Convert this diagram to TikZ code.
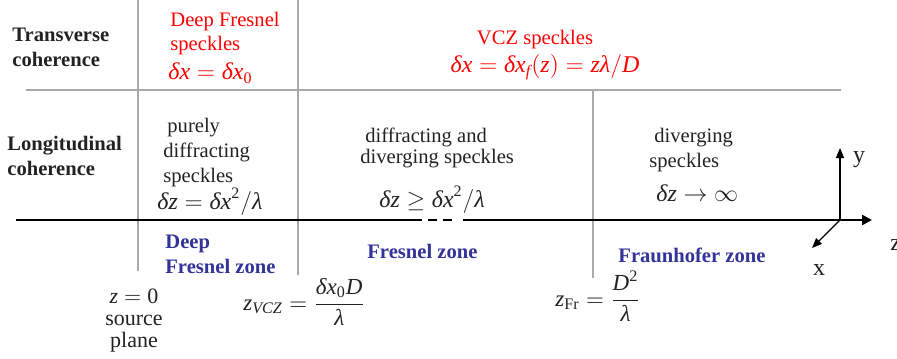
\RequirePackage{fix-cm}
\documentclass[tikz,border=0pt]{standalone}
\usepackage{amsmath}
\usepackage{fontspec}
\setmainfont{Liberation Serif}
\usetikzlibrary{arrows.meta}
\definecolor{zoneblue}{RGB}{51,51,153}
\definecolor{gridgray}{RGB}{170,170,170}
\definecolor{ink}{RGB}{34,34,34}
\newcommand{\mv}[1]{\text{\itshape #1}}

\begin{document}
\begin{tikzpicture}[x=0.5pt,y=-0.5pt,
    txt/.style={inner sep=0pt, text=ink, align=left, font=\fontsize{10.3}{12.5}\selectfont},
    head/.style={txt, font=\fontsize{10.3}{12.5}\selectfont\bfseries},
    spk/.style={txt, text=red},
    zone/.style={head, text=zoneblue},
    eq/.style={inner sep=0pt, text=ink, font=\fontsize{12}{14}\selectfont},
    gridline/.style={draw=gridgray, line width=1pt}]
    \useasboundingbox (0,0) rectangle (897,358);
    % table lines
    \draw[gridline] (138,0) -- (138,271);
    \draw[gridline] (298,0) -- (298,275);
    \draw[gridline] (26,90) -- (841,90);
    \draw[gridline] (593,90) -- (593,278);
    % row heads (base = last line)
    \node[head, anchor=base west] (trans) at (12,67) {Transverse\\coherence};
    \node[head, anchor=base west] (longi) at (7,175) {Longitudinal\\coherence};
    % transverse row
    \node[spk, anchor=base west] (spkDeep) at (170,51) {Deep Fresnel\\[-0.5pt]speckles};
    \node[eq, text=red, anchor=base west] (eqDeep) at (168,80) {$\mv{δx}=\mv{δx}_{\text{0}}$};
    \node[spk, anchor=base] (spkVCZ) at (535,45) {VCZ speckles};
    \node[eq, text=red, anchor=base] (eqVCZ) at (545,73) {$\mv{δx}=\mv{δx}_{\mv{f}}(\mv{z})=\mv{zλ}/\mv{D}$};
    % longitudinal row
    \node[txt, anchor=base west] (spkPure) at (163,182) {\hspace*{2pt}purely\\diffracting\\speckles};
    \node[eq, anchor=base west] (eqPure) at (157,209) {$\mv{δz}=\mv{δx}^{\text{2}}/\mv{λ}$};
    \node[txt, anchor=base west] (spkMid) at (360,163) {\hspace*{2.5pt}diffracting and\\[-2pt]diverging speckles};
    \node[eq, anchor=base west] (eqMid) at (379,207) {$\mv{δz}\geq\mv{δx}^{\text{2}}/\mv{λ}$};
    \node[txt, anchor=base west] (spkDiv) at (649,167) {\hspace*{2.5pt}diverging\\speckles};
    \node[eq, anchor=base west] (eqDiv) at (656,201) {$\mv{δz}\to\infty$};
    % propagation axis
    \coordinate (axS) at (16,220);
    \coordinate (axD1) at (413,220);
    \coordinate (axD2) at (452,220);
    \coordinate (axR) at (463,220);
    \coordinate (axE) at (872,220);
    \draw[line width=1.25pt] (axS) -- (axD1);
    \draw[line width=1.25pt, dash pattern=on 4.5pt off 3pt] (axD1) -- (axD2);
    \draw[line width=1.25pt, -{Triangle[length=5pt,width=5pt]}] (axR) -- (axE);
    % zones
    \node[zone, anchor=base west] (zoneDeep) at (165,273) {Deep\\Fresnel zone};
    \node[zone, anchor=base west] (zoneFres) at (367,258) {Fresnel zone};
    \node[zone, anchor=base west] (zoneFraun) at (618,262) {Fraunhofer zone};
    % distances
    \node[txt, align=center, anchor=base, font=\fontsize{11}{10.8}\selectfont] (zSrc) at (134,347) {$\mv{z}=\text{0}$\\source\\plane};
    \node[eq, anchor=base west, font=\fontsize{11.5}{14}\selectfont] (zVCZ) at (243,310) {$\mv{z}_{\mv{VCZ}}=\dfrac{\mv{δx}_{\text{0}}\mv{D}}{\mv{λ}}$};
    \node[eq, anchor=base west, font=\fontsize{11.5}{14}\selectfont] (zFr) at (555,306) {$\mv{z}_{\text{Fr}}=\dfrac{\mv{D}^{\text{2}}}{\mv{λ}}$};
    % frame x y z
    \coordinate (O) at (840,220);
    \coordinate (Yt) at (840,148);
    \coordinate (Xt) at (812,248);
    \draw[line width=0.6pt, -{Triangle[length=5pt,width=4pt]}] (O) -- (Yt);
    \draw[line width=0.6pt, -{Triangle[length=5pt,width=4pt]}] (O) -- (Xt);
    \node[txt, font=\fontsize{12}{14}\selectfont] (labY) at (859,160) {y};
    \node[txt, font=\fontsize{12}{14}\selectfont] (labX) at (819,270) {x};
    \node[txt, font=\fontsize{12}{14}\selectfont, anchor=west] (labZ) at (890,245) {z};
\end{tikzpicture}
\end{document}
